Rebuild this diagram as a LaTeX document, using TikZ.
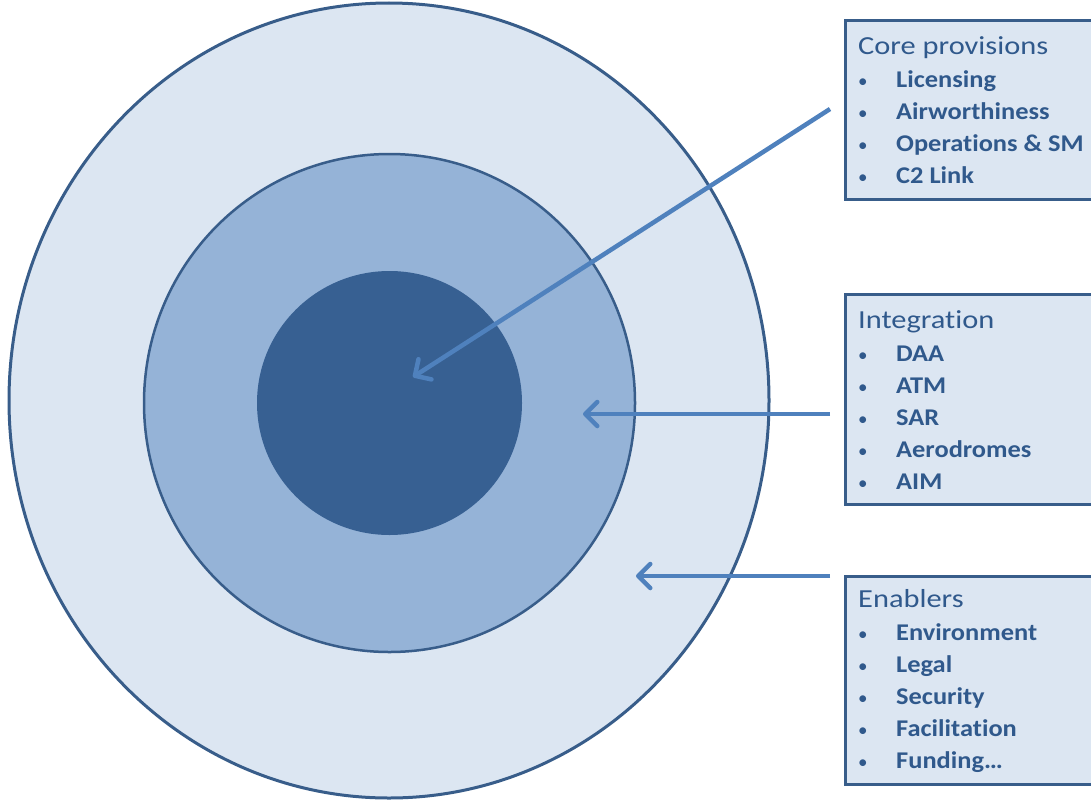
\documentclass[tikz,border=0pt]{standalone}
\usepackage{fontspec}
\setmainfont{Carlito}[Ligatures=NoCommon]
\newfontfamily\titlefont{Carlito}[FakeStretch=1.17, Ligatures=NoCommon]
\newfontfamily\itemfont{Carlito}[FakeStretch=1.1, Ligatures=NoCommon]
\usetikzlibrary{arrows.meta,shapes.geometric}
\definecolor{ringline}{HTML}{385D8A}
\definecolor{outerfill}{HTML}{DCE6F2}
\definecolor{midfill}{HTML}{95B3D7}
\definecolor{innerfill}{HTML}{376092}
\definecolor{boxfill}{HTML}{DCE6F2}
\definecolor{textblue}{HTML}{30598C}
\definecolor{arrowblue}{HTML}{4F81BD}
\newcommand{\boxtitle}[1]{{\titlefont\fontsize{26}{32}\selectfont #1}}
\newcommand{\bulletitem}[1]{\makebox[38pt][l]{{\fontsize{19}{19}\selectfont •}}{\itemfont\bfseries\fontsize{24}{32}\selectfont #1}}
\begin{document}
\begin{tikzpicture}[x=1pt,y=-1pt,
  ring/.style={ellipse, inner sep=0pt},
  infobox/.style={draw=ringline, line width=3pt, fill=boxfill, anchor=north west, minimum width=262pt, inner sep=0pt},
  boxtext/.style={anchor=west, text=textblue, align=left, font=\fontsize{24}{32}\selectfont, inner sep=0pt},
  pointer/.style={draw=arrowblue, line width=4.5pt, -{Straight Barb[length=12pt,width=24pt,round]}},
]
\useasboundingbox (0,0) rectangle (1091,800);
\clip (0,0) rectangle (1091,800);

% rings
\node[ring, draw=ringline, line width=3pt, fill=outerfill, minimum width=760pt, minimum height=795pt] (outer) at (389,400.5) {};
\node[ring, draw=ringline, line width=2.5pt, fill=midfill, minimum width=491pt, minimum height=498pt] (middle) at (389.5,403) {};
\node[ring, fill=innerfill, minimum width=265pt, minimum height=264pt] (inner) at (389.5,403) {};

% boxes
\node[infobox, minimum height=179pt] (corebox) at (844,19) {};
\node[infobox, minimum height=210pt] (intbox) at (844,293) {};
\node[infobox, minimum height=208pt] (enbox) at (844,575) {};

\node[boxtext] (coretext) at (858,110) {\boxtitle{Core provisions}\\[1pt]
\bulletitem{Licensing}\\
\bulletitem{Airworthiness}\\
\bulletitem{Operations \& SM}\\
\bulletitem{C2 Link}};

\node[boxtext] (inttext) at (858,400) {\boxtitle{Integration}\\[1pt]
\bulletitem{DAA}\\
\bulletitem{ATM}\\
\bulletitem{SAR}\\
\bulletitem{Aerodromes}\\
\bulletitem{AIM}};

\node[boxtext] (entext) at (858,681) {\boxtitle{Enablers}\\[1pt]
\bulletitem{Environment}\\
\bulletitem{Legal}\\
\bulletitem{Security}\\
\bulletitem{Facilitation}\\
\bulletitem{Funding…}};

% arrow end points
\coordinate (corestart) at (830,109);
\coordinate (coreend) at (413,377);
\coordinate (intstart) at (830,414);
\coordinate (intend) at (583,414);
\coordinate (enstart) at (830,576);
\coordinate (enend) at (636,576);

\draw[pointer] (corestart) -- (coreend);
\draw[pointer] (intstart) -- (intend);
\draw[pointer] (enstart) -- (enend);
\end{tikzpicture}
\end{document}
